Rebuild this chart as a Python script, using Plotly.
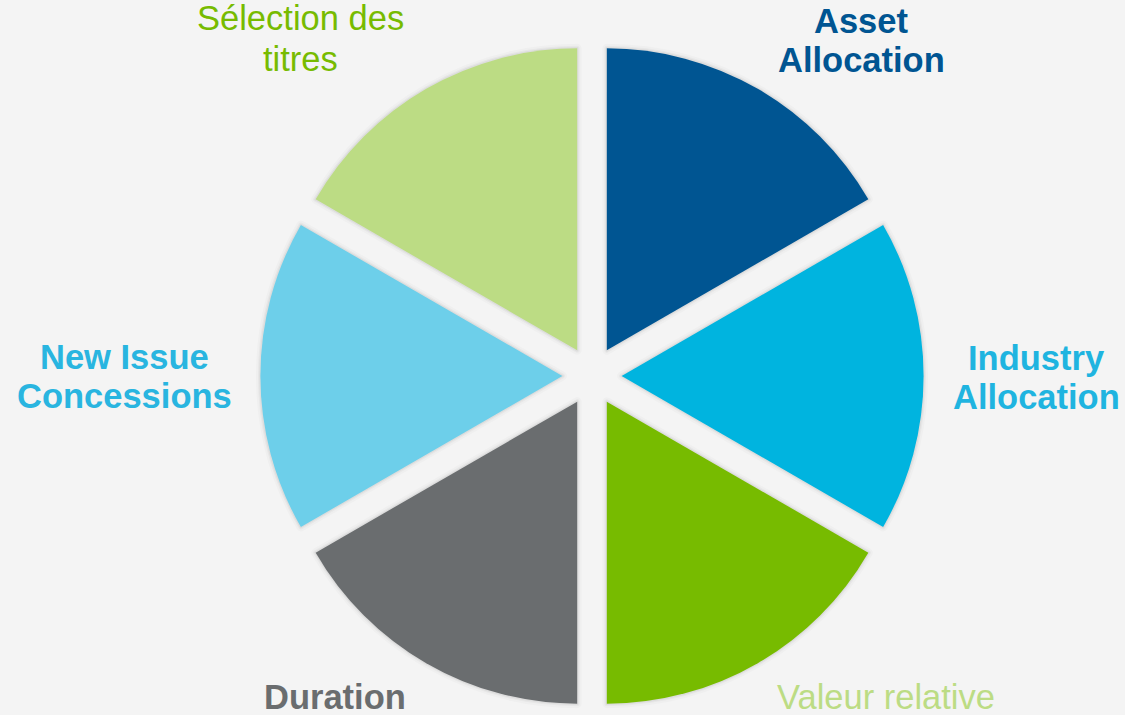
import plotly.graph_objects as go

# ---- data ----
categories = ["Asset Allocation", "Industry Allocation", "Valeur relative",
              "Duration", "New Issue Concessions", "Sélection des titres"]
values = [1, 1, 1, 1, 1, 1]
label_lines = [["Asset", "Allocation"], ["Industry", "Allocation"], ["Valeur relative"],
               ["Duration"], ["New Issue", "Concessions"], ["Sélection des", "titres"]]

# ---- styles ----
slice_colors = ["#005592", "#00b4df", "#77bb00", "#6a6d6f", "#6dcfea", "#bcdc84"]
label_colors = ["#005592", "#1fb4e0", "#bcdc84", "#6a6d6f", "#29b5e0", "#77bb00"]
label_bold = [True, True, False, True, True, False]
# label line baselines (px from top) and x centers (px)
label_pos = [
    (861, [33, 72]),
    (1036, [370, 409]),
    (886, [709]),
    (335, [709]),
    (124, [369, 408]),
    (300, [30, 71]),
]

W, H = 1125, 715
FS = 34.5
cx, cy, R = 592, 376, 302
PULL = 0.098
dom_h = R * 2 * (1 + PULL)
dom_w = 720
xd = [(cx - dom_w / 2) / W, (cx + dom_w / 2) / W]
yd = [1 - (cy + dom_h / 2) / H, 1 - (cy - dom_h / 2) / H]

fig = go.Figure()
# soft shadow layers
for lw, a in [(9, 0.018), (5, 0.03), (2.5, 0.045)]:
    fig.add_trace(go.Pie(
        labels=categories, values=values, sort=False, direction="clockwise",
        rotation=0, pull=[PULL] * 6, textinfo="none", hoverinfo="skip",
        marker=dict(colors=["rgba(0,0,0,0)"] * 6,
                    line=dict(color=f"rgba(0,0,0,{a})", width=lw)),
        domain=dict(x=xd, y=yd), showlegend=False))
fig.add_trace(go.Pie(
    labels=categories, values=values, sort=False, direction="clockwise",
    rotation=0, pull=[PULL] * 6, textinfo="none",
    marker=dict(colors=slice_colors, line=dict(width=0)),
    domain=dict(x=xd, y=yd), showlegend=False))

for lines, col, bold, (xc, bases) in zip(label_lines, label_colors, label_bold, label_pos):
    for txt, base in zip(lines, bases):
        t = f"<b>{txt}</b>" if bold else txt
        ymid = base - 0.3465 * FS
        fig.add_annotation(
            text=t, x=xc / W, y=1 - ymid / H, xref="paper", yref="paper",
            xanchor="center", yanchor="middle", showarrow=False,
            font=dict(family="Liberation Sans, Arial", size=FS, color=col))

fig.update_layout(
    width=W, height=H, margin=dict(l=0, r=0, t=0, b=0),
    paper_bgcolor="#f4f4f4", plot_bgcolor="#f4f4f4", showlegend=False)

fig.write_html(
    "out.html",
    config={"displayModeBar": False},
    post_script="document.body.style.margin='0';document.body.style.overflow='hidden';"
                "document.body.style.background='#f4f4f4';")
